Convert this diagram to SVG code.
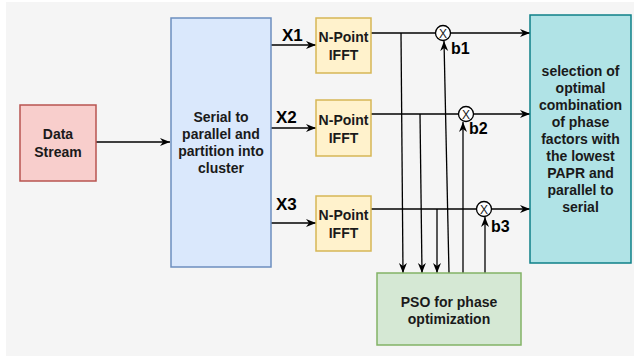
<svg xmlns="http://www.w3.org/2000/svg" width="634" height="358" viewBox="0 0 634 358">
<defs>
<marker id="arr" viewBox="0 0 10 10" refX="10" refY="5" markerWidth="10" markerHeight="10" markerUnits="userSpaceOnUse" orient="auto">
<path d="M0,1 L10,5 L0,9 L3,5 Z" fill="#000"/>
</marker>
<style>
.t{font-family:"Liberation Sans",Arial,sans-serif;font-weight:bold;font-size:14px;fill:#1a1a1a;text-anchor:middle}
.lbl{font-family:"Liberation Sans",Arial,sans-serif;font-weight:bold;font-size:17px;fill:#000}
.c{fill:none;stroke:#000;stroke-width:1.3}
.a{fill:none;stroke:#000;stroke-width:1.3;marker-end:url(#arr)}
.ifft{fill:#fff2cc;stroke:#d6b656;stroke-width:1.5}
</style>
</defs>
<rect x="6" y="2" width="628" height="354" fill="#f5f5f5"/>

<g id="connectors">
<path class="a" d="M96,142 H170"/>
<path class="a" d="M271,45 H316"/>
<path class="a" d="M271,128 H316"/>
<path class="a" d="M271,223 H316"/>
<path class="a" d="M370,33 H530"/>
<path class="a" d="M370,114 H530"/>
<path class="a" d="M370,209 H530"/>
<path class="a" d="M401,33 L403,273"/>
<path class="a" d="M420,114 L422,273"/>
<path class="a" d="M437,209 L437,273"/>
<path class="a" d="M449,273 L444,41"/>
<path class="a" d="M463,273 L463,122"/>
<path class="a" d="M485,273 L485,217"/>
<text class="lbl" x="282" y="41">X1</text>
<text class="lbl" x="276" y="123">X2</text>
<text class="lbl" x="276" y="210">X3</text>
</g>

<g id="data-stream">
<rect x="20" y="105" width="76" height="76" fill="#f8cecc" stroke="#b85450" stroke-width="1.5"/>
<text class="t" x="58" y="139">Data</text>
<text class="t" x="58" y="157">Stream</text>
</g>

<g id="serial-parallel">
<rect x="171" y="18" width="100" height="249" fill="#dae8fc" stroke="#6c8ebf" stroke-width="1.5"/>
<text class="t" x="221" y="122">Serial to</text>
<text class="t" x="221" y="139">parallel and</text>
<text class="t" x="221" y="156">partition into</text>
<text class="t" x="221" y="173">cluster</text>
</g>

<g id="ifft1">
<rect class="ifft" x="316" y="18" width="55" height="55"/>
<text class="t" x="343.5" y="42">N-Point</text>
<text class="t" x="343.5" y="60">IFFT</text>
</g>
<g id="ifft2">
<rect class="ifft" x="316" y="100" width="55" height="56"/>
<text class="t" x="343.5" y="125">N-Point</text>
<text class="t" x="343.5" y="143">IFFT</text>
</g>
<g id="ifft3">
<rect class="ifft" x="316" y="196" width="55" height="55"/>
<text class="t" x="343.5" y="220">N-Point</text>
<text class="t" x="343.5" y="238">IFFT</text>
</g>

<g id="mult1">
<circle cx="443" cy="33" r="7.5" fill="#fff" stroke="#000" stroke-width="1.3"/>
<text class="t" x="443" y="38" style="font-size:12px;font-weight:normal">X</text>
<text class="lbl" x="451" y="54" style="font-size:16px">b1</text>
</g>
<g id="mult2">
<circle cx="466" cy="114" r="7.5" fill="#fff" stroke="#000" stroke-width="1.3"/>
<text class="t" x="466" y="119" style="font-size:12px;font-weight:normal">X</text>
<text class="lbl" x="469" y="134" style="font-size:16px">b2</text>
</g>
<g id="mult3">
<circle cx="484" cy="209" r="7.5" fill="#fff" stroke="#000" stroke-width="1.3"/>
<text class="t" x="484" y="214" style="font-size:12px;font-weight:normal">X</text>
<text class="lbl" x="491" y="232" style="font-size:16px">b3</text>
</g>

<g id="selection">
<rect x="530" y="15" width="101" height="248" fill="#b0e3e6" stroke="#0e8088" stroke-width="1.5"/>
<text class="t" x="580.5" y="76">selection of</text>
<text class="t" x="580.5" y="93">optimal</text>
<text class="t" x="580.5" y="110">combination</text>
<text class="t" x="580.5" y="127">of phase</text>
<text class="t" x="580.5" y="144">factors with</text>
<text class="t" x="580.5" y="161">the lowest</text>
<text class="t" x="580.5" y="178">PAPR and</text>
<text class="t" x="580.5" y="195">parallel to</text>
<text class="t" x="580.5" y="212">serial</text>
</g>

<g id="pso">
<rect x="377" y="273" width="144" height="72" fill="#d5e8d4" stroke="#82b366" stroke-width="1.5"/>
<text class="t" x="449" y="307">PSO for phase</text>
<text class="t" x="449" y="324">optimization</text>
</g>
</svg>
